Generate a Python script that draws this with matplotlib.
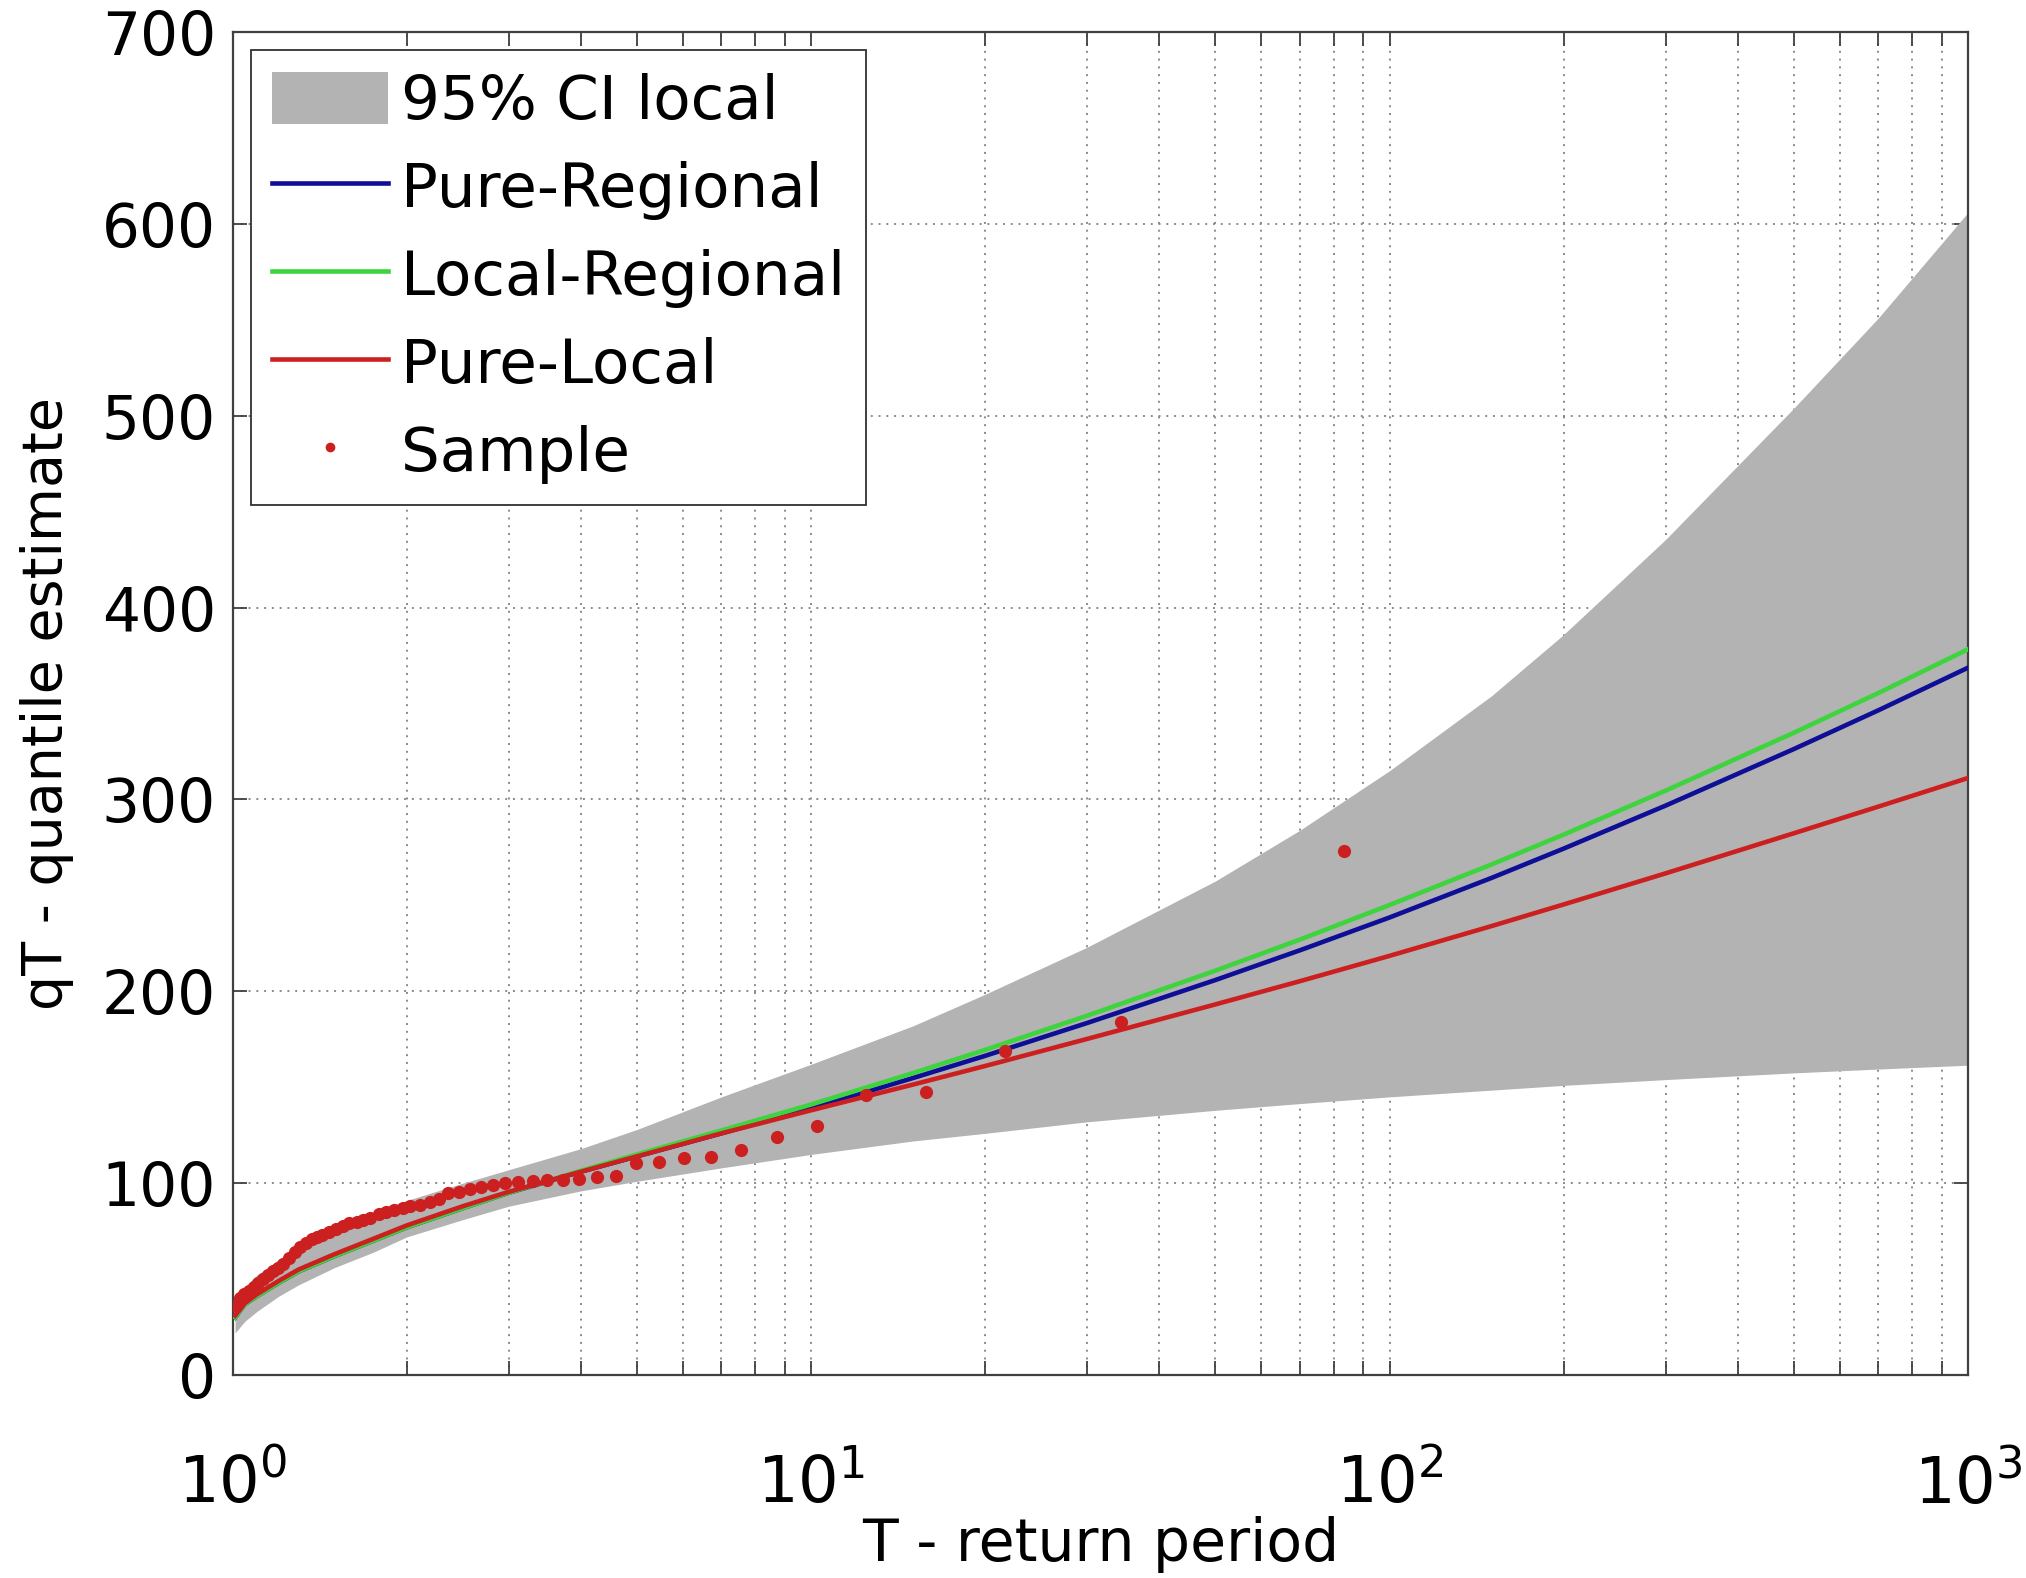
import numpy as np
import matplotlib.pyplot as plt
from matplotlib.patches import Patch
from matplotlib.lines import Line2D
from matplotlib.ticker import LogLocator, NullFormatter, MultipleLocator

# return periods at which the curves were read
T_grid = [1.01, 1.05, 1.1, 1.2, 1.3, 1.5, 1.75, 2, 2.5, 3, 4, 5, 7, 10, 15, 20,
          30, 50, 70, 100, 150, 200, 300, 500, 700, 1000]

ci_lower = [22, 28, 33, 41, 47, 56, 64, 72, 81, 88, 96, 101, 108, 115, 122, 126,
            132, 138, 141.5, 145, 148.5, 151, 154, 157.5, 159.5, 161.5]
ci_upper = [40, 46, 52, 60, 67, 77, 85, 91, 100, 107, 118, 128, 145, 162, 182, 198.5,
            223, 257.5, 284, 315, 354, 386, 435.5, 504, 551, 606]

pure_regional = [30, 37, 41, 48, 54, 62, 70, 77, 87, 95, 106, 114, 126, 139, 154.8, 166.4,
                 183.5, 205.9, 221.4, 238.5, 259.1, 274.4, 296.8, 326.3, 346.5, 368.7]
local_regional = [30, 37, 41, 48, 54, 62, 70, 77, 87, 95, 106.5, 115, 127.5, 141, 157.4, 169.5,
                  187.3, 210.8, 227, 245, 266.1, 281.7, 304.6, 334.8, 355.5, 378.3]
pure_local = [31, 37.5, 42, 49, 55, 63, 71, 78, 88, 95.5, 106, 114, 126, 138, 151.4, 161.1,
              175.2, 193.2, 205.3, 218.5, 234, 245.3, 261.5, 282.4, 296.3, 311.2]

# sample points (plotting positions)
sample_T = [83.43, 34.35, 21.63, 15.78, 12.43, 10.25, 8.72, 7.58, 6.71, 6.02,
            5.46, 4.99, 4.60, 4.26, 3.97, 3.72, 3.50, 3.30, 3.12, 2.96,
            2.82, 2.69, 2.57, 2.46, 2.36, 2.27, 2.19, 2.11, 2.03, 1.97,
            1.90, 1.84, 1.79, 1.73, 1.68, 1.64, 1.59, 1.55, 1.51, 1.47,
            1.43, 1.40, 1.37, 1.34, 1.31, 1.28, 1.25, 1.22, 1.20, 1.175,
            1.152, 1.130, 1.108, 1.087, 1.067, 1.048, 1.030, 1.012]
sample_q = [273, 184, 169, 147.5, 146, 130, 124, 117.5, 113.5, 113,
            111, 110.5, 103.5, 103, 102, 101.8, 101.5, 101, 100.5, 100,
            99, 98, 97, 95.5, 95, 92, 90, 88.5, 88, 87,
            86, 85, 84, 82, 81, 80, 79, 77.5, 76, 74.5,
            73, 72, 71, 69, 67, 64, 61, 58, 56, 54,
            52, 50, 48, 46, 44, 42, 40, 36]

gray = "#b3b3b3"
blue = "#0e0e96"
green = "#3ed43e"
red = "#cc2020"

plt.rcParams["font.family"] = ["DejaVu Sans"]

fig = plt.figure(figsize=(20.26, 15.78), dpi=100)
ax = fig.add_axes([0.1148, 0.1286, 0.8566, 0.8511])

ax.fill_between(T_grid, ci_lower, ci_upper, color=gray, linewidth=0, zorder=2)
ax.plot(T_grid, pure_regional, color=blue, linewidth=3.3, zorder=3)
ax.plot(T_grid, local_regional, color=green, linewidth=3.3, zorder=3)
ax.plot(T_grid, pure_local, color=red, linewidth=3.3, zorder=3)
ax.plot(sample_T, sample_q, linestyle="none", marker="o", markersize=9.5,
        color=red, markeredgewidth=0, zorder=4)

ax.set_xscale("log")
ax.set_xlim(1, 1000)
ax.set_ylim(0, 700)
ax.yaxis.set_major_locator(MultipleLocator(100))
ax.xaxis.set_major_locator(LogLocator(base=10, numticks=10))
ax.xaxis.set_minor_locator(LogLocator(base=10, subs=np.arange(2, 10), numticks=50))
ax.xaxis.set_minor_formatter(NullFormatter())

grid_kw = dict(color="#8a8a8a", linestyle=(0, (1, 3)), linewidth=1.4)
ax.grid(True, which="major", axis="both", **grid_kw)
ax.grid(True, which="minor", axis="x", **grid_kw)
ax.set_axisbelow(True)

ax.tick_params(which="both", direction="in", top=True, right=True,
               length=10, width=1.3, color="#404040")
ax.tick_params(axis="y", labelsize=43, pad=12)
ax.tick_params(axis="x", labelsize=46, pad=56)
for s in ax.spines.values():
    s.set_color("#404040")
    s.set_linewidth(1.6)

ax.set_xlabel("T - return period", fontsize=42, labelpad=0)
ax.set_ylabel("qT - quantile estimate", fontsize=40, labelpad=20)

handles = [
    Patch(facecolor=gray, edgecolor="none"),
    Line2D([], [], color=blue, linewidth=3.3),
    Line2D([], [], color=green, linewidth=3.3),
    Line2D([], [], color=red, linewidth=3.3),
    Line2D([], [], linestyle="none", marker="o", markersize=7, color=red,
           markeredgewidth=0),
]
labels = ["95% CI local", "Pure-Regional", "Local-Regional", "Pure-Local", "Sample"]
leg = ax.legend(handles, labels, loc="upper left", fontsize=44, frameon=True,
                fancybox=False, framealpha=1, edgecolor="#303030",
                handlelength=1.9, handleheight=0.95, handletextpad=0.2,
                labelspacing=0.45, borderpad=0.35, borderaxespad=0.3)
leg.get_frame().set_linewidth(1.3)

fig.savefig("out.png", dpi=100)
